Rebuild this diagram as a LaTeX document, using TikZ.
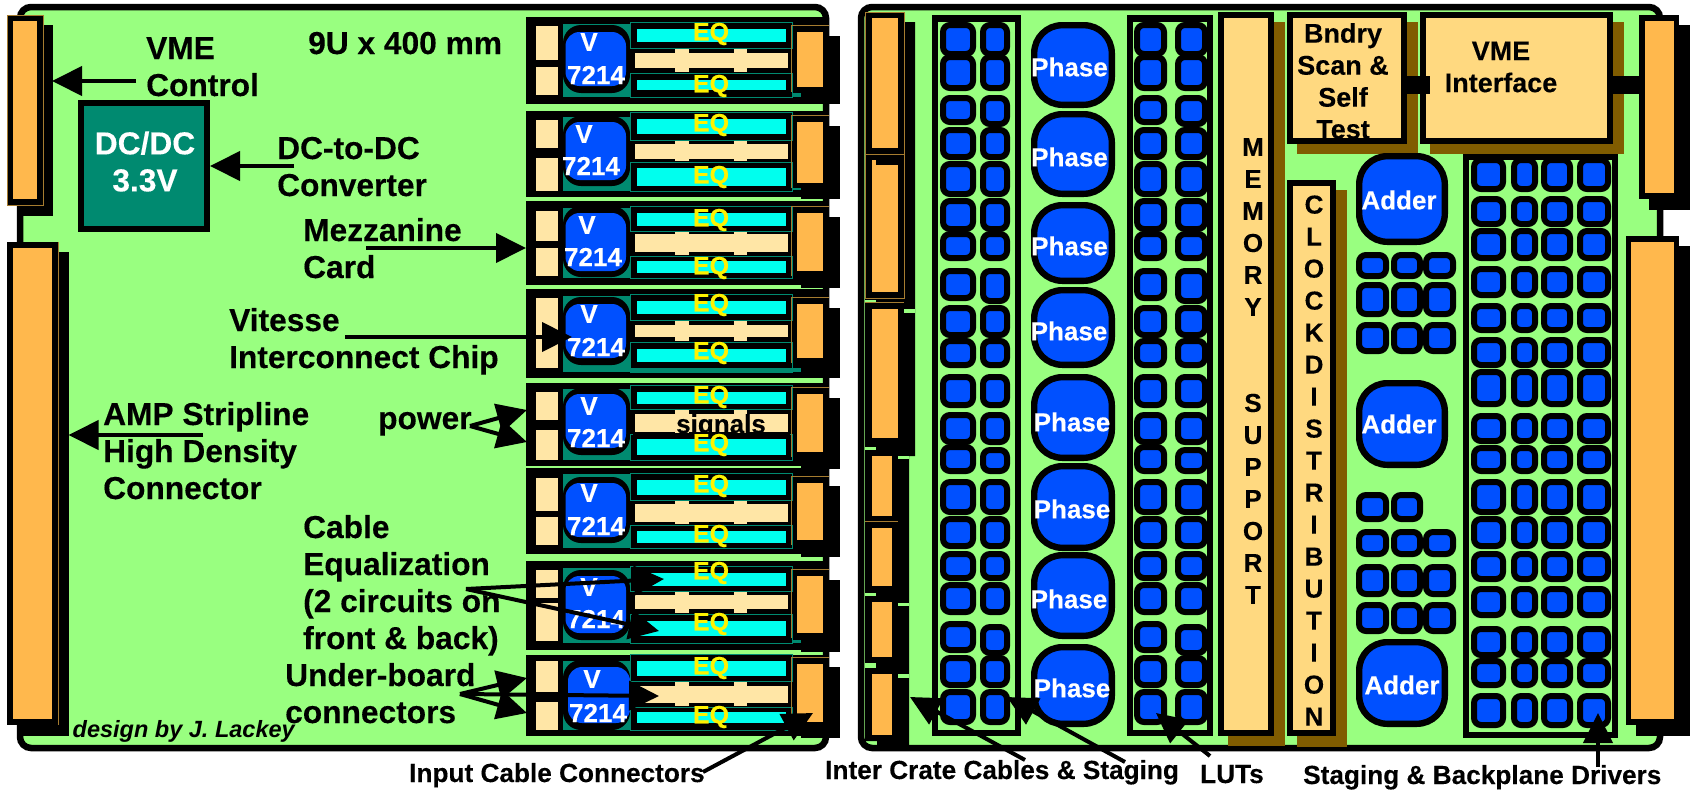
\documentclass[tikz,border=0pt]{standalone}
\usepackage{fontspec}
\setmainfont{Liberation Sans}[BoldFeatures={FakeBold=0.25}]
\usetikzlibrary{arrows.meta}
\definecolor{boardgreen}{HTML}{99FF80}
\definecolor{connorange}{HTML}{FFB84D}
\definecolor{chipblue}{HTML}{0050FF}
\definecolor{pcbteal}{HTML}{008A70}
\definecolor{cream}{HTML}{FFE6A6}
\definecolor{memcream}{HTML}{FFD980}
\definecolor{shadebrown}{HTML}{805C00}
\definecolor{eqcyan}{HTML}{00FFEE}
\definecolor{thinline}{HTML}{A67C30}
\newcommand{\chipbox}[4]{\draw[chipst] ({#1+3},{#3+3}) rectangle ({#2-3},{#4-3});}
\newcommand{\bigbox}[4]{\draw[bigst] ({#1+3.2},{#3+3.2}) rectangle ({#2-3.2},{#4-3.2});}
\def\colA{22/57,54/91,95/125,127/160,161/197,198/232,231/261,268/301,305/338,338/368,374/408,412/445,444/474,479/515,516/549,551/581,582/615,621/653,655/688,689/725}
\def\colB{22/57,54/91,95/127,127/160,161/197,198/232,231/261,268/304,305/338,338/368,374/408,412/445,447/474,479/515,516/549,551/581,582/615,624/656,655/688,689/725}
\def\colC{157/192,196/227,228/261,266/298,303/333,337/368,369/407,413/444,445/474,479/515,516/549,551/582,586/618,626/658,658/688,693/728}
\tikzset{
  boardst/.style={draw=black,line width=6.5pt,fill=boardgreen,rounded corners=11pt},
  chipst/.style={draw=black,line width=6pt,fill=chipblue,rounded corners=7pt},
  bigst/.style={draw=black,line width=6.4pt,fill=chipblue,rounded corners=28pt},
  framest/.style={draw=black,line width=6.4pt},
  lbl/.style={font=\fontsize{31.7}{37}\selectfont\bfseries,anchor=base west,inner sep=0pt,align=left},
  small/.style={font=\fontsize{26.2}{32}\selectfont\bfseries,anchor=base west,inner sep=0pt},
  chiptext/.style={font=\fontsize{26}{32}\selectfont\bfseries,text=white,inner sep=0pt},
  eqtext/.style={font=\fontsize{25}{28}\selectfont\bfseries,text=yellow,inner sep=0pt},
  stack/.style={font=\fontsize{26}{32}\selectfont\bfseries,align=center,inner sep=0pt},
  arr/.style={draw=black,line width=4pt,-{Triangle[length=30pt,width=29pt]}},
  thin teal/.style={draw=pcbteal,line width=.8pt},
  thin orange/.style={draw=thinline,line width=.8pt},
}
\begin{document}
\begin{tikzpicture}[x=1pt,y=-1pt]
\useasboundingbox (0,0) rectangle (1690,790);
\fill[white] (0,0) rectangle (1690,790);
% boards
\draw[boardst] (20,7) rectangle (826,748);
\draw[boardst] (861,7) rectangle (1660,748);
% left-board backplane connectors
\fill[black] (17,25) rectangle (53,216);
\fill[black] (7,15) rectangle (43,205);
\fill[connorange] (12.5,21) rectangle (36.5,199);
\draw[thin orange] (7,15) rectangle (43,205);
\fill[black] (17,252) rectangle (68.5,736);
\fill[black] (7,242) rectangle (58.5,725);
\fill[connorange] (13,248) rectangle (52,719);
\draw[thin orange] (58.5,242) -- (58.5,725);
% DC/DC
\draw[fill=pcbteal,draw=black,line width=6.4pt] (81.2,103.2) rectangle (206.8,228.8);
\node[lbl,anchor=center,align=center,text=white] (dcdc) at (145,161.5) {DC/DC\\3.3V};
% mezzanine rows
\foreach \rT/\rB/\sA/\sB/\sC/\sD/\tT/\tB/\cT/\cB/\bT/\bB/\eA/\eB/\mA/\mB/\kA/\kB/\gA/\gB/\oA/\oB/\hT/\hB/\bL/\bR in {
 17/104/26/60/67/95/24/97/25/93/32/86/29/42/53/68/49/72/80/90/32/87/36/104/565.5/626,
 111/197/120/148/158/191/117/191/116/186/122/180/119/134/144/159/141/161/168/186/122/183/126/199/565.5/626,
 201/285/211/241/248/276/208/278/206/277/213/271/213/226/234/252/232/255/261/273/213/271/217/288/565.5/626,
 289/378/298/335/339/368/296/372/297/365/304/358/301/314/325/337/321/341/349/362/304/358/308/378/565.5/626,
 383/466/392/420/430/460/389/460/388/455/394/448/392/404/414/432/410/433/439/455/394/452/398/469/565.5/626,
 468/554/478/511/517/545/474/548/477/543/483/537/480/495/504/522/501/524/531/543/483/540/486/557/565.5/626,
 561/650/570/598/603/641/568/643/570/640/576/633/573/586/595/609/592/613/621/636/576/633/580/652/565.5/626,
 655/736/661/692/702/730/661/730/660/730/667/723/661/676/686/703/682/706/712/723/664/722/667/738/568/630}{
  \fill[black] (526,\rT) rectangle (829,\rB);
  \fill[black] (829,\hT) rectangle (840,\hB);
  \fill[black] (801,\rB-2) rectangle (840,\hB);
  \fill[cream] (536,\sA) rectangle (558,\sB);
  \fill[cream] (536,\sC) rectangle (558,\sD);
  \fill[pcbteal] (563,\tT) rectangle (630,\tB);
  \fill[black,rounded corners=18pt] (563,\cT) rectangle (630,\cB);
  \fill[chipblue,rounded corners=14pt] (\bL,\bT) rectangle (\bR,\bB);
  \draw[thin teal] (630,\eA-7) rectangle (792,\kA-1);
  \draw[thin teal] (630,\kB+1) rectangle (792,\tB);
  \fill[eqcyan] (637,\eA) rectangle (786,\eB);
  \fill[eqcyan] (637,\gA) rectangle (786,\gB);
  \fill[cream] (635,\mA) rectangle (788,\mB);
  \fill[cream] (675,\kA) rectangle (689,\kB);
  \fill[cream] (734,\kA) rectangle (747,\kB);
  \draw[thin orange] (791,\oA-7) -- (829,\oA-7);
  \draw[thin orange] (791,\oA-7) -- (791,\oB+5);
  \fill[connorange] (797,\oA) rectangle (823,\oB);
}
\fill[pcbteal] (630,368) rectangle (801,372);
\fill[pcbteal] (792,93) rectangle (801,97);
\fill[pcbteal] (792,188) rectangle (801,190);
\fill[pcbteal] (792,640) rectangle (801,643);
% signals label, cut off by the frame below it
\node[chiptext,text=black,anchor=base] (signals) at (721,433) {signals};
\fill[black] (633,432.5) rectangle (790,439);
\fill[eqcyan] (637,439) rectangle (786,455);
% mezzanine texts
\foreach \n/\vx/\vy/\tx/\ty/\ea/\eb in {
 1/589/42/596/75/34/86, 2/584/134/591/166/125/177, 3/587/225/593/257/220/268, 4/589/314/596/347/305/353,
 5/589/406/596/438/397/445, 6/589/493/596/526/486/536, 7/589/587/596/619/573/624, 8/592/679/598/713/668/717}{
  \node[chiptext] (v\n) at (\vx,\vy) {V};
  \node[chiptext] (num\n) at (\tx,\ty) {7214};
  \node[eqtext] (eqa\n) at (711,\ea) {EQ};
  \node[eqtext] (eqb\n) at (711,\eb) {EQ};
}
% right-board left connector stack
\fill[black] (865,12) -- (904,12) -- (904,22) -- (915,22) -- (915,456) -- (909,456) -- (909,748) -- (877,748) -- (877,741) -- (865,741) -- cycle;
\foreach \xa/\ya/\xb/\yb in {865/300/876/303,904/309/915/313,865/447/876/450,898/456/909/459,865/593/876/596,898/603/909/606,865/663/876/668,898/674/909/678}
  \fill[boardgreen] (\xa,\ya) rectangle (\xb,\yb);
\foreach \xa/\ya/\xb/\yb in {872/18/898/148,872/160/898/292,872/309/898/438,872/456/892/516,872/528/892/586,872/602/892/657,872/674/892/735}
  \fill[connorange] (\xa,\ya) rectangle (\xb,\yb);
\fill[black] (876,160) rectangle (898,165);
\draw[thin orange] (865,12) rectangle (904,154);
\draw[thin orange] (865,154) rectangle (904,298);
\draw[thin orange] (865,302) -- (904,302);
\draw[thin orange] (865,521) -- (898,521);
% chip columns
\draw[framest] (935,18.5) rectangle (1018,733);
\draw[framest] (1130,18.5) rectangle (1210,733);
\draw[framest] (1466,157) rectangle (1615,735);
\foreach \xa/\xb in {940/976,1134/1167}
  \foreach \ya/\yb in \colA {\chipbox{\xa}{\xb}{\ya}{\yb}}
\foreach \xa/\xb in {980/1010,1175/1208}
  \foreach \ya/\yb in \colB {\chipbox{\xa}{\xb}{\ya}{\yb}}
\foreach \xa/\xb in {1471/1506,1511/1538,1541/1573,1577/1611}
  \foreach \ya/\yb in \colC {\chipbox{\xa}{\xb}{\ya}{\yb}}
% phase devices
\foreach \n/\ya/\yb/\tx/\ty in {1/22/108/1069.5/67,2/111/197/1069.5/157,3/202/284/1069.5/246,4/287/368/1069/331,5/374/461/1072/422,6/463/551/1072/509,7/552/639/1069/599,8/644/727/1072/688}{
  \bigbox{1031}{1115}{\ya}{\yb}
  \node[chiptext] (phase\n) at (\tx,\ty) {Phase};
}
% memory
\fill[shadebrown] (1228,22) rectangle (1285,746);
\draw[framest,fill=memcream] (1221.2,15.2) rectangle (1270.8,733);
\node[stack] (memory) at (1253,371) {M\\E\\M\\O\\R\\Y\\\mbox{}\\\mbox{}\\S\\U\\P\\P\\O\\R\\T};
% clock
\fill[shadebrown] (1297,190) rectangle (1347,747);
\draw[framest,fill=memcream] (1290.2,183.2) rectangle (1332.8,733);
\node[stack] (clock) at (1314,460.5) {C\\L\\O\\C\\K\\D\\I\\S\\T\\R\\I\\B\\U\\T\\I\\O\\N};
% boundary scan and VME interface
\fill[shadebrown] (1297,22) rectangle (1418,154);
\draw[framest,fill=memcream] (1290.2,15.2) rectangle (1403.8,140.8);
\node[stack,font=\fontsize{27}{32}\selectfont\bfseries] (bndry) at (1343,81) {Bndry\\Scan \&\\Self\\Test};
\fill[shadebrown] (1430,22) rectangle (1624,154);
\draw[framest,fill=memcream] (1423.2,15.2) rectangle (1609.8,140.8);
\node[stack,font=\fontsize{27}{32}\selectfont\bfseries] (vmeif) at (1501,67) {VME\\Interface};
\fill[black] (1407,76) rectangle (1430,94);
\fill[black] (1613,76) rectangle (1640,94);
% adders
\foreach \n/\ya/\yb/\tx/\ty in {1/153/245/1399/200,2/380/468/1399/424,3/639/727/1402/685}{
  \bigbox{1356}{1448}{\ya}{\yb}
  \node[chiptext] (adder\n) at (\tx,\ty) {Adder};
}
\foreach \ya/\yb in {252/279,282/317,322/354,529/557,564/597,602/634}
  \foreach \xa/\xb in {1356/1389,1391/1423,1423/1456} {\chipbox{\xa}{\xb}{\ya}{\yb}}
\foreach \xa/\xb in {1356/1389,1391/1423} {\chipbox{\xa}{\xb}{492}{522}}
% right-board right connectors
\fill[black] (1649,25) rectangle (1690,210);
\fill[black] (1639,15) rectangle (1679,199);
\fill[connorange] (1645,21) rectangle (1674,193);
\fill[black] (1636,246) rectangle (1690,736);
\fill[black] (1626,236) rectangle (1679,725);
\fill[connorange] (1631,242) rectangle (1674,719);
% labels (a multi-line node's base anchor is its last line)
\node[lbl] (vmelbl) at (146,96) {VME\\Control};
\node[lbl] (sizelbl) at (308,54) {9U x 400 mm};
\node[lbl] (dclbl) at (277,196) {DC-to-DC\\Converter};
\node[lbl] (mezzlbl) at (303,278) {Mezzanine\\Card};
\node[lbl] (vitlbl) at (229,368) {Vitesse\\Interconnect Chip};
\node[lbl] (amplbl) at (103,499) {AMP Stripline\\High Density\\Connector};
\node[lbl] (powerlbl) at (378,429) {power};
\node[lbl] (cablelbl) at (303,649) {Cable\\Equalization\\(2 circuits on\\front \& back)};
\node[lbl] (underlbl) at (285,723) {Under-board\\connectors};
\node[anchor=base west,inner sep=0pt,font=\fontsize{23.5}{28}\selectfont\bfseries\itshape] (credit) at (72.5,737) {design by J. Lackey};
\node[small] (inputlbl) at (409,782) {Input Cable Connectors};
\node[small] (interlbl) at (825,779) {Inter Crate Cables \& Staging};
\node[small] (lutlbl) at (1200,783) {LUTs};
\node[small] (staglbl) at (1303,784) {Staging \& Backplane Drivers};
% arrow ends
\coordinate (a1t) at (136,81); \coordinate (a1h) at (52,81);
\coordinate (a2t) at (294,166); \coordinate (a2h) at (210,166);
\coordinate (a3t) at (366,248); \coordinate (a3h) at (526,248);
\coordinate (a4t) at (345,337); \coordinate (a4h) at (572,337);
\coordinate (a5t) at (203,435); \coordinate (a5h) at (68.5,435);
\coordinate (a6t) at (470,426); \coordinate (a6h) at (527,410); \coordinate (a7h) at (527,442);
\coordinate (a8t) at (466,589); \coordinate (a8h) at (664,579); \coordinate (a9h) at (659,631);
\coordinate (a10t) at (460,694); \coordinate (a10h) at (527,678); \coordinate (a11h) at (527,713); \coordinate (a12h) at (659,696);
\coordinate (a13t) at (703,772); \coordinate (a13h) at (813,713);
\coordinate (a14t) at (1025,760); \coordinate (a14h) at (910,697);
\coordinate (a15t) at (1125,762); \coordinate (a15h) at (1007,697);
\coordinate (a16t) at (1210,756); \coordinate (a16h) at (1156,713);
\coordinate (a17t) at (1598,767); \coordinate (a17h) at (1598,713);
\foreach \s/\e in {a1t/a1h,a2t/a2h,a3t/a3h,a4t/a4h,a5t/a5h,a6t/a6h,a6t/a7h,a8t/a8h,a8t/a9h,a10t/a10h,a10t/a11h,a10t/a12h,a13t/a13h,a14t/a14h,a15t/a15h,a16t/a16h,a17t/a17h}
  \draw[arr] (\s) -- (\e);
\end{tikzpicture}
\end{document}
